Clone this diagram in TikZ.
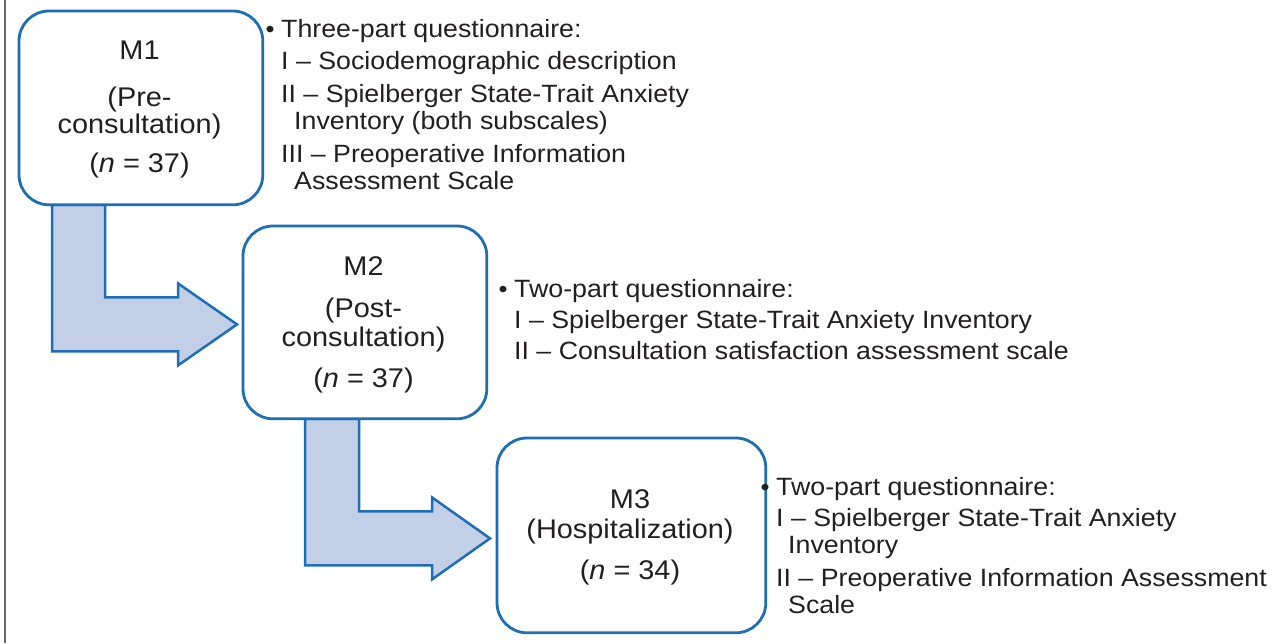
\documentclass[tikz,border=0pt]{standalone}
\usepackage{fontspec}
\setmainfont{Liberation Sans}[FakeStretch=1.07]
\usetikzlibrary{calc}
\definecolor{bblue}{RGB}{30,110,180}
\definecolor{afill}{RGB}{195,207,230}
\definecolor{txt}{RGB}{35,31,32}
\definecolor{edgegray}{RGB}{105,105,105}
\begin{document}
\begin{tikzpicture}[x=1pt,y=-1pt,
  stagebox/.style={draw=bblue,line width=2.8pt,fill=white,rounded corners=30pt,anchor=north west,inner sep=0pt},
  flowarrow/.style={draw=bblue,line width=2.5pt,fill=afill,line join=miter},
  boxtext/.style={anchor=base,inner sep=0pt,font=\fontsize{27}{31}\selectfont,text=txt},
  sidetext/.style={anchor=base west,inner sep=0pt,font=\fontsize{25}{29}\selectfont,text=txt},
  bulletmark/.style={anchor=base,inner sep=0pt,font=\fontsize{24}{28}\selectfont,text=txt},
  leftrule/.style={draw=edgegray,line width=2pt}
]
\useasboundingbox (0,0) rectangle (1285,643);
\fill[white] (0,0) rectangle (1285,643);
\draw[leftrule] (5,0) -- (5,643);

% stage boxes (positions)
\path (19,11) node[stagebox,minimum width=241pt,minimum height=191pt] (m1) {};
\path (243,226) node[stagebox,minimum width=241pt,minimum height=190pt] (m2) {};
\path (497,438) node[stagebox,minimum width=266pt,minimum height=192pt] (m3) {};

% elbow arrows
\path (m1.south west) ++(33,0) coordinate (a1s);
\path (m2.west) ++(-6,2) coordinate (a1t);
\path (m2.south west) ++(62,0) coordinate (a2s);
\path (m3.west) ++(-7,3) coordinate (a2t);
\draw[flowarrow] (a1s) |- ($(a1t)+(-59,27)$) -- ++(0,14) -- (a1t) -- ($(a1t)+(-59,-41)$) -- ++(0,14) -| ($(a1s)+(53,0)$) -- cycle;
\draw[flowarrow] (a2s) |- ($(a2t)+(-58,27)$) -- ++(0,14) -- (a2t) -- ($(a2t)+(-58,-41)$) -- ++(0,14) -| ($(a2s)+(54,0)$) -- cycle;

% redraw boxes on top
\draw[draw=bblue,line width=2.8pt,fill=white,rounded corners=30pt] (m1.north west) rectangle (m1.south east);
\draw[draw=bblue,line width=2.8pt,fill=white,rounded corners=30pt] (m2.north west) rectangle (m2.south east);
\draw[draw=bblue,line width=2.8pt,fill=white,rounded corners=30pt] (m3.north west) rectangle (m3.south east);

% box texts
\node[boxtext] (m1a) at (139.5,59) {M1};
\node[boxtext] (m1b) at (139.5,106) {(Pre-};
\node[boxtext] (m1c) at (139.5,133) {consultation)};
\node[boxtext] (m1d) at (139.5,172) {(\textit{n} = 37)};

\node[boxtext] (m2a) at (363.5,275) {M2};
\node[boxtext] (m2b) at (363.5,317) {(Post-};
\node[boxtext] (m2c) at (363.5,346) {consultation)};
\node[boxtext] (m2d) at (363.5,387) {(\textit{n} = 37)};

\node[boxtext] (m3a) at (630,508) {M3};
\node[boxtext] (m3b) at (630,538) {(Hospitalization)};
\node[boxtext] (m3c) at (630,579) {(\textit{n} = 34)};

% side text block 1
\node[bulletmark] (b1) at (270,37) {•};
\node[sidetext] (s1a) at (281,37) {Three-part questionnaire:};
\node[sidetext] (s1b) at (281,69) {I – Sociodemographic description};
\node[sidetext] (s1c) at (281,102) {II – Spielberger State-Trait Anxiety};
\node[sidetext] (s1d) at (294,129) {Inventory (both subscales)};
\node[sidetext] (s1e) at (281,162) {III – Preoperative Information};
\node[sidetext] (s1f) at (294,189) {Assessment Scale};

% side text block 2
\node[bulletmark] (b2) at (503,297) {•};
\node[sidetext] (s2a) at (514,297) {Two-part questionnaire:};
\node[sidetext] (s2b) at (514,328) {I – Spielberger State-Trait Anxiety Inventory};
\node[sidetext] (s2c) at (514,359) {II – Consultation satisfaction assessment scale};

% side text block 3
\node[bulletmark] (b3) at (765,495) {•};
\node[sidetext] (s3a) at (776,495) {Two-part questionnaire:};
\node[sidetext] (s3b) at (776,526) {I – Spielberger State-Trait Anxiety};
\node[sidetext] (s3c) at (788,553) {Inventory};
\node[sidetext] (s3d) at (776,586) {II – Preoperative Information Assessment};
\node[sidetext] (s3e) at (788,613) {Scale};
\end{tikzpicture}
\end{document}
